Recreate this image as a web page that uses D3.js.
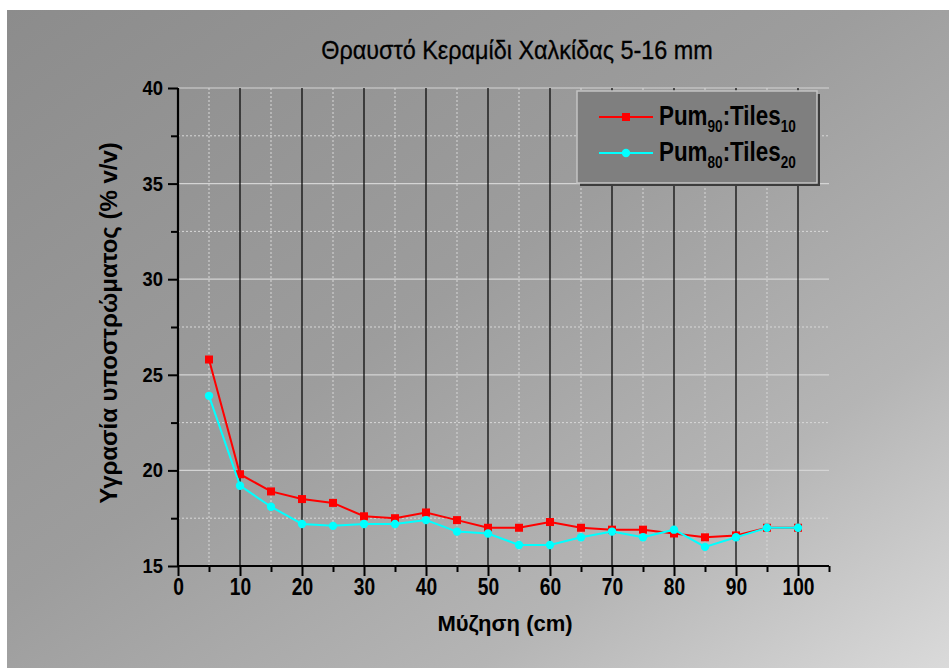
<!DOCTYPE html>
<html>
<head>
<meta charset="utf-8">
<script src="https://cdn.jsdelivr.net/npm/d3@7"></script>
<style>
  body { margin: 0; background: #fff; }
  svg { display: block; font-family: "Liberation Sans", Arial, sans-serif; }
</style>
</head>
<body>
<div id="chart"></div>
<script>
// data
const depthCm = [5, 10, 15, 20, 25, 30, 35, 40, 45, 50, 55, 60, 65, 70, 75, 80, 85, 90, 95, 100];
const pum90Tiles10 = [25.8, 19.8, 18.9, 18.5, 18.3, 17.6, 17.5, 17.8, 17.4, 17.0, 17.0, 17.3, 17.0, 16.9, 16.9, 16.7, 16.5, 16.6, 17.0, 17.0];
const pum80Tiles20 = [23.9, 19.2, 18.1, 17.2, 17.1, 17.2, 17.2, 17.4, 16.8, 16.7, 16.1, 16.1, 16.5, 16.8, 16.5, 16.9, 16.0, 16.5, 17.0, 17.0];
const xMajorTicks = [0, 10, 20, 30, 40, 50, 60, 70, 80, 90, 100];
const xMinorTicks = [5, 15, 25, 35, 45, 55, 65, 75, 85, 95, 105];
const yMajorTicks = [15, 20, 25, 30, 35, 40];
const yMinorTicks = [17.5, 22.5, 27.5, 32.5, 37.5];

const W = 949, H = 668;
const m = { left: 178, right: 829, top: 88, bottom: 566 };

const x = d3.scaleLinear().domain([0, 105]).range([m.left, m.right]);
const y = d3.scaleLinear().domain([15, 40]).range([m.bottom, m.top]);

const svg = d3.select('#chart').append('svg')
  .attr('width', W).attr('height', H);

// background gradient
const defs = svg.append('defs');
const grad = defs.append('linearGradient').attr('id', 'bg')
  .attr('x1', '0%').attr('y1', '0%').attr('x2', '100%').attr('y2', '100%');
grad.append('stop').attr('offset', '0%').attr('stop-color', '#8c8c8c');
grad.append('stop').attr('offset', '45%').attr('stop-color', '#9d9d9d');
grad.append('stop').attr('offset', '75%').attr('stop-color', '#b5b5b5');
grad.append('stop').attr('offset', '100%').attr('stop-color', '#dadada');

svg.append('rect').attr('x', 7).attr('y', 10).attr('width', W - 7).attr('height', H - 10)
  .attr('fill', 'url(#bg)');

// grid
const grid = svg.append('g');
grid.selectAll('line.hmin').data(yMinorTicks).join('line')
  .attr('x1', m.left).attr('x2', m.right).attr('y1', d => y(d)).attr('y2', d => y(d))
  .attr('stroke', '#d8d8d8').attr('stroke-dasharray', '2,2').attr('stroke-width', 1);
grid.selectAll('line.hmaj').data(yMajorTicks.filter(d => d > 15)).join('line')
  .attr('x1', m.left).attr('x2', m.right).attr('y1', d => y(d)).attr('y2', d => y(d))
  .attr('stroke', '#d4d4d4').attr('stroke-width', 1.2);
grid.selectAll('line.vmin').data(xMinorTicks.filter(d => d < 105)).join('line')
  .attr('y1', m.top).attr('y2', m.bottom).attr('x1', d => x(d)).attr('x2', d => x(d))
  .attr('stroke', '#d8d8d8').attr('stroke-dasharray', '2,2').attr('stroke-width', 1);
grid.selectAll('line.vmaj').data(xMajorTicks.filter(d => d > 0)).join('line')
  .attr('y1', m.top).attr('y2', m.bottom).attr('x1', d => x(d)).attr('x2', d => x(d))
  .attr('stroke', '#000').attr('stroke-width', 1.2);

// squeeze text horizontally like the original
function squeeze(sel, sx) {
  sel.each(function () {
    const t = d3.select(this);
    const tx = +t.attr('x') || 0;
    t.attr('x', tx / sx).attr('transform', `scale(${sx},1)`);
  });
}

// axes
const xAxis = svg.append('g').attr('transform', `translate(0,${m.bottom})`)
  .call(d3.axisBottom(x).tickValues(xMajorTicks).tickSize(10).tickPadding(2).tickFormat(d3.format('d')));
svg.append('g').attr('transform', `translate(0,${m.bottom})`)
  .call(d3.axisBottom(x).tickValues(xMinorTicks).tickSize(6).tickFormat(''))
  .call(g => g.select('.domain').remove());
const yAxis = svg.append('g').attr('transform', `translate(${m.left},0)`)
  .call(d3.axisLeft(y).tickValues(yMajorTicks).tickSize(10).tickPadding(5).tickFormat(d3.format('d')));
svg.append('g').attr('transform', `translate(${m.left},0)`)
  .call(d3.axisLeft(y).tickValues(yMinorTicks).tickSize(7).tickFormat(''))
  .call(g => g.select('.domain').remove());

svg.selectAll('.domain').attr('stroke', '#000').attr('stroke-width', 2.2);
svg.selectAll('.tick line').attr('stroke', '#000').attr('stroke-width', 2);
xAxis.selectAll('.domain').attr('d', `M${m.left},0H${m.right}`);
yAxis.selectAll('.domain').attr('d', `M0,${m.bottom}V${m.top}`);

xAxis.selectAll('text').attr('font-size', 24).attr('font-weight', 'bold').attr('fill', '#000')
  .attr('font-family', '"Liberation Sans", Arial, sans-serif');
squeeze(xAxis.selectAll('text'), 0.8);
yAxis.selectAll('text').attr('font-size', 20).attr('font-weight', 'bold').attr('fill', '#000')
  .attr('font-family', '"Liberation Sans", Arial, sans-serif');
squeeze(yAxis.selectAll('text'), 0.92);

// series
const line = d3.line().x(d => x(d[0])).y(d => y(d[1]));
const redPts = depthCm.map((d, i) => [d, pum90Tiles10[i]]);
const cyanPts = depthCm.map((d, i) => [d, pum80Tiles20[i]]);

svg.append('path').datum(redPts).attr('d', line)
  .attr('fill', 'none').attr('stroke', '#ff0000').attr('stroke-width', 2);
svg.append('g').selectAll('rect').data(redPts).join('rect')
  .attr('x', d => x(d[0]) - 4).attr('y', d => y(d[1]) - 4)
  .attr('width', 8).attr('height', 8).attr('fill', '#ff0000');

svg.append('path').datum(cyanPts).attr('d', line)
  .attr('fill', 'none').attr('stroke', '#00ffff').attr('stroke-width', 2);
svg.append('g').selectAll('circle').data(cyanPts).join('circle')
  .attr('cx', d => x(d[0])).attr('cy', d => y(d[1])).attr('r', 4.2)
  .attr('fill', '#00ffff');

// title
svg.append('text')
  .attr('transform', `translate(517,59) scale(0.9,1)`)
  .attr('text-anchor', 'middle').attr('font-size', 26).attr('fill', '#000')
  .attr('stroke', '#000').attr('stroke-width', 0.3)
  .text('Θραυστό Κεραμίδι Χαλκίδας 5-16 mm');

// axis titles
svg.append('text')
  .attr('x', 505).attr('y', 631).attr('text-anchor', 'middle')
  .attr('font-size', 22).attr('font-weight', 'bold').attr('fill', '#000')
  .text('Μύζηση (cm)');
svg.append('text')
  .attr('transform', 'translate(117,323) rotate(-90)')
  .attr('text-anchor', 'middle')
  .attr('font-size', 24).attr('font-weight', 'bold').attr('fill', '#000')
  .text('Υγρασία υποστρώματος (% v/v)');

// legend
const lg = svg.append('g');
const lx0 = 577, ly0 = 91, lw = 240, lh = 92;
lg.append('rect').attr('x', lx0 + 3).attr('y', ly0 + 3).attr('width', lw).attr('height', lh).attr('fill', '#3c3c3c');
lg.append('rect').attr('x', lx0).attr('y', ly0).attr('width', lw).attr('height', lh)
  .attr('fill', '#7f7f7f').attr('stroke', '#c4c4c4').attr('stroke-width', 1.5);

const legendItems = [
  { a: '90', b: '10', color: '#ff0000', shape: 'square', y: 117 },
  { a: '80', b: '20', color: '#00ffff', shape: 'circle', y: 153 }
];
legendItems.forEach(it => {
  lg.append('line').attr('x1', 599).attr('x2', 653).attr('y1', it.y).attr('y2', it.y)
    .attr('stroke', it.color).attr('stroke-width', 2);
  if (it.shape === 'square') {
    lg.append('rect').attr('x', 626 - 4).attr('y', it.y - 4).attr('width', 8).attr('height', 8).attr('fill', it.color);
  } else {
    lg.append('circle').attr('cx', 626).attr('cy', it.y).attr('r', 4.2).attr('fill', it.color);
  }
  const t = lg.append('text')
    .attr('transform', `translate(659,${it.y + 8}) scale(0.8,1)`)
    .attr('font-size', 28).attr('font-weight', 'bold').attr('fill', '#000');
  t.append('tspan').text('Pum');
  t.append('tspan').attr('font-size', 17).attr('dy', 7).text(it.a);
  t.append('tspan').attr('dy', -7).text(':Tiles');
  t.append('tspan').attr('font-size', 17).attr('dy', 7).text(it.b);
});
</script>
</body>
</html>
